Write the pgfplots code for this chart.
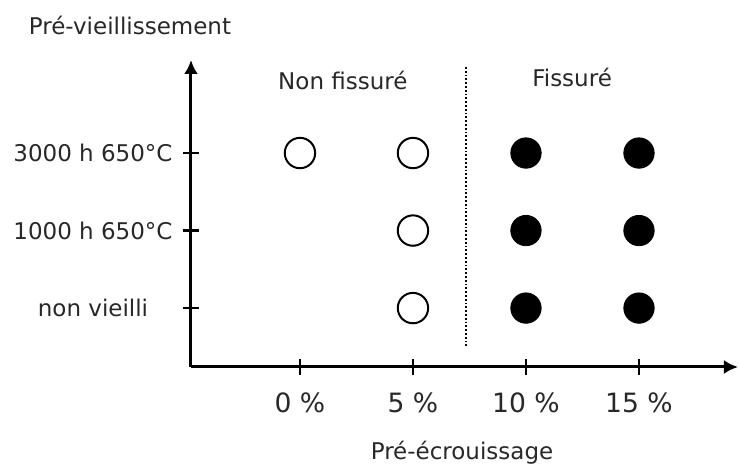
\documentclass[border=0pt]{standalone}
\usepackage{pgfplots}
\pgfplotsset{compat=1.18}
\usetikzlibrary{arrows.meta}
\usepackage{fontspec}
\setmainfont{DejaVu Sans}
\definecolor{txt}{RGB}{40,40,40}
\begin{document}
\begin{tikzpicture}
\begin{axis}[
  scale only axis, width=273.5pt, height=153.5pt,
  xmin=-4.82, xmax=19.38, ymin=-0.76, ymax=3.2,
  axis lines=left,
  axis line style={draw=none},
  xtick={0,5,10,15}, xticklabels={0 \%, 5 \%, 10 \%, 15 \%},
  ytick={0,1,2}, yticklabels={non vieilli, 1000 h 650°C, 3000 h 650°C},
  tick align=center, major tick length=8pt,
  tick style={line width=1.2pt, black},
  /pgf/number format/assume math mode=true,
  ticklabel style={font=\fontsize{11.5}{13}\selectfont, text=txt},
  xticklabel style={anchor=center, yshift=-14pt, font=\fontsize{13.3}{15}\selectfont},
  yticklabel style={anchor=center, xshift=-45pt},
  clip=false,
]
\draw[line width=1.5pt, -{Latex[length=7pt,width=7pt]}] (rel axis cs:0,0) -- (rel axis cs:1,0);
\draw[line width=1.5pt, -{Latex[length=7pt,width=7pt]}] (rel axis cs:0,0) -- (rel axis cs:0,1);
\addplot[only marks, mark=*, mark size=7.6pt, mark options={fill=white, draw=black, line width=1pt}]
  coordinates {(0,2) (5,2) (5,1) (5,0)};
\addplot[only marks, mark=*, mark size=7.6pt, mark options={fill=black, draw=black}]
  coordinates {(10,0) (10,1) (10,2) (15,0) (15,1) (15,2)};
\addplot[densely dotted, line width=0.9pt, black] coordinates {(7.35,3.11) (7.35,-0.5)};
\node[font=\fontsize{11.5}{13}\selectfont, text=txt] at (axis cs:1.9,2.94) {Non fissuré};
\node[font=\fontsize{11.5}{13}\selectfont, text=txt] at (axis cs:12.04,2.98) {Fissuré};
\node[font=\fontsize{11.5}{13}\selectfont, text=txt] at (axis cs:7.17,-1.87) {Pré-écrouissage};
\node[font=\fontsize{11.5}{13}\selectfont, text=txt] at (axis cs:-7.52,3.65) {Pré-vieillissement};
\end{axis}
\pgfresetboundingbox
\useasboundingbox (-95.5pt,-51.5pt) rectangle (274pt,183.5pt);
\end{tikzpicture}
\end{document}
